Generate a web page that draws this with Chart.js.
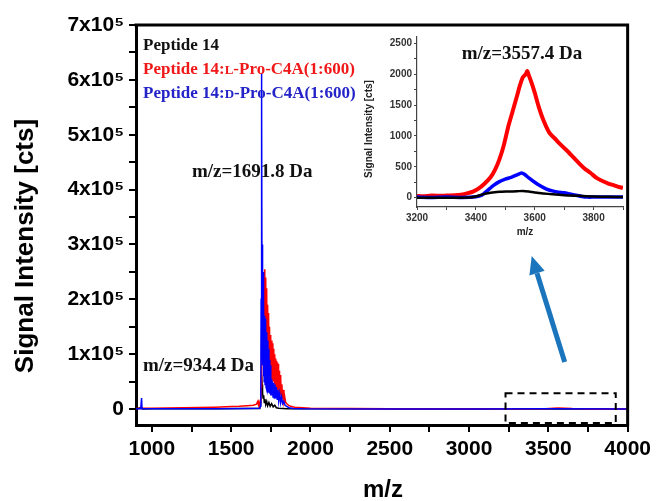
<!DOCTYPE html>
<html><head><meta charset="utf-8">
<script src="https://cdn.jsdelivr.net/npm/chart.js@4.4.1/dist/chart.umd.min.js"></script>
<style>
html,body{margin:0;padding:0;background:#fff;}
#wrap{position:relative;width:656px;height:501px;overflow:hidden;}
#main{position:absolute;left:0;top:0;}
#inset{position:absolute;left:355px;top:25px;}
</style></head><body>
<div id="wrap"><canvas id="main" width="656" height="501"></canvas><canvas id="inset" width="270" height="220"></canvas></div>
<script>
// ---------- data ----------
const seriesNames = ["Peptide 14", "Peptide 14:L-Pro-C4A(1:600)", "Peptide 14:D-Pro-C4A(1:600)"];
const mainXTicks = [1000,1250,1500,1750,2000,2250,2500,2750,3000,3250,3500,3750,4000];
const mainYTicks = [0,50000,100000,150000,200000,250000,300000,350000,400000,450000,500000,550000,600000,650000,700000];
const insetXTicks = [3200,3300,3400,3500,3600,3700,3800,3900];
const insetYTicks = [0,250,500,750,1000,1250,1500,1750,2000,2250,2500];

// main spectrum, Peptide 14 (black)
const blackMz  = [900,935,940,1000,1200,1400,1600,1680,1686,1689,1692,1695,1698,1701,1705,1709,1713,1718,1724,1730,1738,1746,1755,1765,1775,1785,1800,1850,2000,3000,3400,3550,3700,4000];
const blackInt = [300,3000,300,400,500,700,900,1000,8000,40000,62000,45000,30000,20000,25000,12000,18000,8000,14000,6000,12000,5000,10000,4000,7000,2500,1500,800,400,300,200,300,200,100];
// main spectrum, L-Pro (red)
const redMz  = [900,950,1000,1100,1200,1300,1400,1500,1550,1600,1640,1660,1668,1672,1676,1680,1683,1686,1689,1692,1695,1698,1701,1704,1707,1710,1712,1715,1718,1721,1724,1727,1730,1733,1736,1739,1742,1745,1748,1751,1754,1757,1760,1763,1766,1769,1772,1775,1778,1781,1784,1787,1790,1793,1796,1799,1802,1805,1808,1811,1814,1817,1820,1824,1828,1833,1838,1844,1850,1860,1875,1900,1950,2000,2500,3000,3400,3480,3560,3650,3800,4000];
const redInt = [1000,1500,1500,2000,2500,3000,3500,4500,5000,6000,7000,9000,14000,8000,13000,9000,12000,15000,40000,120000,200000,150000,230000,120000,210000,140000,255000,110000,240000,100000,220000,90000,190000,80000,175000,70000,150000,65000,135000,60000,125000,55000,120000,50000,110000,50000,100000,45000,92000,40000,88000,38000,85000,35000,82000,30000,70000,28000,62000,25000,55000,20000,45000,18000,35000,15000,22000,12000,10000,7000,5000,3500,2500,1500,800,500,400,800,2000,900,300,200];
// main spectrum, D-Pro (blue)
const blueMz  = [900,930,935,938,1000,1200,1400,1600,1680,1684,1687,1689,1691,1693,1695,1697,1699,1701,1703,1705,1708,1711,1714,1717,1720,1723,1726,1729,1732,1735,1738,1741,1744,1747,1750,1753,1756,1760,1764,1768,1772,1776,1780,1785,1790,1795,1800,1806,1812,1818,1825,1832,1840,1850,1865,1890,1950,2500,3000,3500,4000];
const blueInt = [500,500,20000,500,500,600,800,1000,1500,5000,30000,200000,612000,560000,150000,300000,80000,250000,60000,200000,50000,170000,45000,165000,40000,140000,35000,125000,30000,110000,30000,90000,28000,80000,25000,55000,25000,50000,22000,48000,20000,45000,20000,40000,18000,35000,15000,28000,12000,22000,10000,14000,7000,5000,2500,1000,500,300,300,400,300];

// inset spectra (3200-3900)
const insRedMz  = [3200,3220,3250,3280,3300,3330,3350,3370,3390,3410,3430,3450,3465,3480,3495,3510,3525,3540,3550,3560,3570,3575,3580,3590,3600,3615,3630,3650,3670,3690,3710,3730,3750,3770,3790,3810,3830,3850,3870,3890,3900];
const insRedInt = [30,25,35,30,35,40,50,70,100,150,230,330,450,620,850,1150,1400,1650,1820,1950,2000,2050,1980,1850,1700,1450,1250,1050,950,850,760,660,560,470,400,320,270,230,200,170,160];
const insBlueMz  = [3200,3250,3300,3350,3400,3420,3440,3460,3480,3500,3520,3540,3555,3565,3580,3600,3620,3640,3660,3680,3700,3720,3740,3760,3780,3800,3850,3900];
const insBlueInt = [10,5,10,5,15,40,120,200,260,300,330,370,400,380,320,250,190,140,110,90,80,60,40,20,10,10,10,10];
const insBlackMz  = [3200,3300,3380,3400,3420,3450,3480,3510,3540,3560,3580,3600,3630,3660,3700,3750,3800,3850,3900];
const insBlackInt = [0,0,5,20,50,80,95,100,105,110,100,85,70,55,40,30,20,15,10];

const colors = ["#000000", "#ff0000", "#0000ff"];
const toPts = (xs, ys) => xs.map((x, i) => ({x: x, y: ys[i]}));

const SANS = '"Liberation Sans", Arial, sans-serif';
const SERIF = '"Liberation Serif", "Times New Roman", serif';

// ---------- main chart ----------
const mainDecor = {
  id: 'mainDecor',
  afterDraw(chart) {
    const ctx = chart.ctx, a = chart.chartArea, xs = chart.scales.x, ys = chart.scales.y;
    ctx.save();
    // frame top & right
    ctx.strokeStyle = '#000'; ctx.lineWidth = 3;
    ctx.beginPath();
    ctx.moveTo(a.left - 1.5, a.top); ctx.lineTo(a.right, a.top); ctx.lineTo(a.right, a.bottom + 1.5);
    ctx.stroke();
    // dashed box
    ctx.lineWidth = 2; ctx.setLineDash([7, 5]);
    const bx1 = xs.getPixelForValue(3230), bx2 = xs.getPixelForValue(3925);
    const by1 = ys.getPixelForValue(29000), by2 = ys.getPixelForValue(-25500);
    ctx.strokeRect(bx1, by1, bx2 - bx1, by2 - by1);
    ctx.setLineDash([]);
    // arrow
    const tx = xs.getPixelForValue(3603), ty = ys.getPixelForValue(85700);
    const hx = xs.getPixelForValue(3395), hy = ys.getPixelForValue(278900);
    const ang = Math.atan2(hy - ty, hx - tx);
    const hl = 18, hw = 8;
    const bxp = hx - hl * Math.cos(ang), byp = hy - hl * Math.sin(ang);
    ctx.strokeStyle = '#1b75bc'; ctx.fillStyle = '#1b75bc'; ctx.lineWidth = 5;
    ctx.beginPath(); ctx.moveTo(tx, ty); ctx.lineTo(bxp, byp); ctx.stroke();
    ctx.beginPath();
    ctx.moveTo(hx, hy);
    ctx.lineTo(bxp + hw * Math.sin(ang), byp - hw * Math.cos(ang));
    ctx.lineTo(bxp - hw * Math.sin(ang), byp + hw * Math.cos(ang));
    ctx.closePath(); ctx.fill();
    // axis titles
    ctx.fillStyle = '#000';
    ctx.font = 'bold 26px ' + SANS;
    ctx.textAlign = 'center'; ctx.textBaseline = 'middle';
    ctx.save(); ctx.translate(26, 246); ctx.rotate(-Math.PI / 2);
    ctx.fillText('Signal Intensity [cts]', 0, 0); ctx.restore();
    ctx.font = 'bold 24px ' + SANS;
    ctx.fillText('m/z', 383, 490);
    // legend texts
    ctx.textAlign = 'left';
    ctx.font = 'bold 17px ' + SERIF;
    ctx.fillStyle = '#111';
    ctx.fillText(seriesNames[0], 143, 46);
    const drawMixed = (y, color, small) => {
      ctx.fillStyle = color;
      let x = 143;
      ctx.font = 'bold 17px ' + SERIF;
      ctx.fillText('Peptide 14:', x, y); x += ctx.measureText('Peptide 14:').width;
      ctx.font = 'bold 13px ' + SERIF;
      ctx.fillText(small, x, y + 1); x += ctx.measureText(small).width;
      ctx.font = 'bold 17px ' + SERIF;
      ctx.fillText('-Pro-C4A(1:600)', x, y);
    };
    drawMixed(70, '#f01818', 'L');
    drawMixed(94, '#2323c8', 'D');
    // annotations
    ctx.fillStyle = '#111';
    ctx.font = 'bold 19px ' + SERIF;
    ctx.fillText('m/z=1691.8 Da', 192, 172);
    ctx.fillText('m/z=934.4 Da', 143, 366);
    ctx.textAlign = 'center';
    ctx.fillText('m/z=3557.4 Da', 522, 54);
    ctx.restore();
  }
};

new Chart(document.getElementById('main'), {
  type: 'line',
  data: {
    datasets: [
      {label: seriesNames[0], data: toPts(blackMz, blackInt), borderColor: colors[0], order: 3},
      {label: seriesNames[1], data: toPts(redMz, redInt), borderColor: colors[1], order: 2},
      {label: seriesNames[2], data: toPts(blueMz, blueInt), borderColor: colors[2], order: 1}
    ]
  },
  options: {
    responsive: false, animation: false,
    layout: {padding: {top: 25, right: 28, left: 0, bottom: 0}},
    plugins: {legend: {display: false}, tooltip: {enabled: false}},
    elements: {point: {radius: 0}, line: {tension: 0, borderWidth: 1.5}},
    scales: {
      x: {
        type: 'linear', min: 900, max: 4000,
        afterFit: s => { s.height = 76; },
        afterBuildTicks: s => { s.ticks = mainXTicks.map(v => ({value: v})); },
        ticks: {callback: v => (v % 500 === 0 ? String(v) : ''), font: {family: SANS, weight: 'bold', size: 21}, color: '#000', padding: 5, maxRotation: 0, autoSkip: false},
        grid: {drawOnChartArea: false, tickLength: 7, color: '#000', lineWidth: 2},
        border: {color: '#000', width: 3}
      },
      y: {
        min: -29000, max: 700000,
        afterFit: s => { s.width = 136; },
        afterBuildTicks: s => { s.ticks = mainYTicks.map(v => ({value: v})); },
        ticks: {callback: v => (v === 0 ? '0' : (v % 100000 === 0 ? (v / 100000) + 'x10\u2075' : '')), font: {family: SANS, weight: 'bold', size: 21}, color: '#000', padding: 5, autoSkip: false},
        grid: {drawOnChartArea: false, tickLength: 7, color: '#000', lineWidth: 2},
        border: {color: '#000', width: 3}
      }
    }
  },
  plugins: [mainDecor]
});

// ---------- inset chart ----------
const insetDecor = {
  id: 'insetDecor',
  afterDraw(chart) {
    const ctx = chart.ctx;
    ctx.save();
    ctx.fillStyle = '#222';
    ctx.font = 'bold 10px ' + SANS;
    ctx.textAlign = 'center'; ctx.textBaseline = 'middle';
    ctx.save(); ctx.translate(14, 104); ctx.rotate(-Math.PI / 2);
    ctx.fillText('Signal Intensity [cts]', 0, 0); ctx.restore();
    ctx.fillText('m/z', 170, 207);
    ctx.restore();
  }
};

new Chart(document.getElementById('inset'), {
  type: 'line',
  data: {
    datasets: [
      {label: seriesNames[0], data: toPts(insBlackMz, insBlackInt), borderColor: colors[0], borderWidth: 2.5, order: 1},
      {label: seriesNames[2], data: toPts(insBlueMz, insBlueInt), borderColor: colors[2], borderWidth: 3.5, order: 2},
      {label: seriesNames[1], data: toPts(insRedMz, insRedInt), borderColor: colors[1], borderWidth: 4, order: 3}
    ]
  },
  options: {
    responsive: false, animation: false,
    layout: {padding: {top: 12, right: 2, left: 0, bottom: 0}},
    plugins: {legend: {display: false}, tooltip: {enabled: false}},
    elements: {point: {radius: 0}, line: {tension: 0.2}},
    scales: {
      x: {
        type: 'linear', min: 3200, max: 3900,
        afterFit: s => { s.height = 38; },
        afterBuildTicks: s => { s.ticks = insetXTicks.map(v => ({value: v})); },
        ticks: {callback: v => (v % 200 === 0 ? String(v) : ''), font: {family: SANS, weight: 'bold', size: 10}, color: '#333', padding: 2, maxRotation: 0, autoSkip: false},
        grid: {drawOnChartArea: false, tickLength: 3, color: '#444', lineWidth: 1},
        border: {color: '#444', width: 1.2}
      },
      y: {
        min: -150, max: 2600,
        afterFit: s => { s.width = 62; },
        afterBuildTicks: s => { s.ticks = insetYTicks.map(v => ({value: v})); },
        ticks: {callback: v => (v % 500 === 0 ? String(v) : ''), font: {family: SANS, weight: 'bold', size: 10}, color: '#333', padding: 2, autoSkip: false},
        grid: {drawOnChartArea: false, tickLength: 3, color: '#444', lineWidth: 1},
        border: {color: '#444', width: 1.2}
      }
    }
  },
  plugins: [insetDecor]
});
</script>
</body></html>
